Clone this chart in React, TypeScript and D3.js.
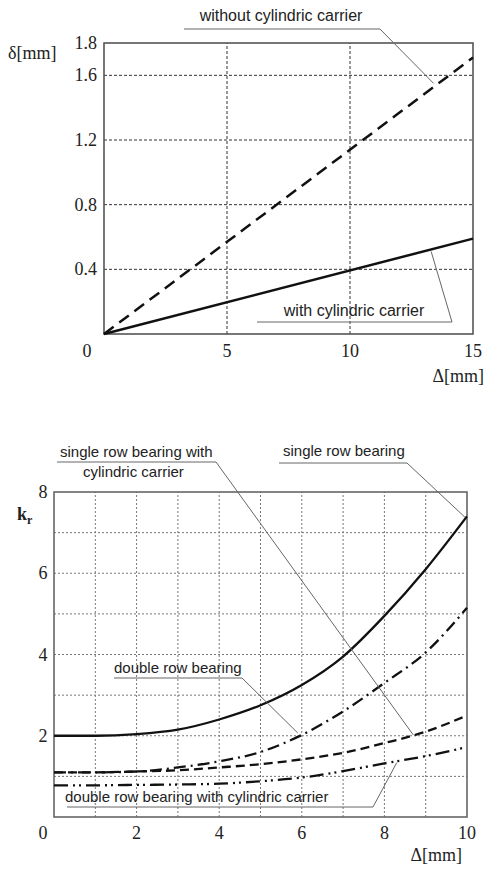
import React, { useEffect, useRef } from 'react';
import * as d3 from 'd3';

// top chart: deflection vs. misalignment
const topX = [0, 15];
const withoutCarrier = [0, 1.71];
const withCarrier = [0, 0.59];
const topXTicks = [5, 10, 15];
const topYTicks = [0.4, 0.8, 1.2, 1.6, 1.8];
const topGridY = [0.4, 0.8, 1.2, 1.6];
const topGridX = [5, 10];

// bottom chart: k_r vs. misalignment
const botX = [0, 1, 2, 3, 4, 5, 6, 7, 8, 9, 10];
const singleRow = [2.0, 2.0, 2.04, 2.15, 2.4, 2.75, 3.25, 3.95, 4.95, 6.1, 7.4];
const doubleRow = [1.1, 1.1, 1.12, 1.22, 1.37, 1.6, 2.02, 2.6, 3.3, 4.05, 5.15];
const singleRowCarrier = [1.1, 1.1, 1.12, 1.15, 1.22, 1.3, 1.42, 1.58, 1.82, 2.1, 2.5];
const doubleRowCarrier = [0.78, 0.78, 0.79, 0.8, 0.82, 0.88, 0.97, 1.13, 1.32, 1.5, 1.72];
const botXTicks = [2, 4, 6, 8, 10];
const botYTicks = [2, 4, 6, 8];
const botGrid = [1, 2, 3, 4, 5, 6, 7, 8, 9];

const serif = 'Liberation Serif';
const sans = 'Liberation Sans';

function App() {
  const svgRef = useRef<SVGSVGElement>(null);

  useEffect(() => {
    const svg = d3.select(svgRef.current);
    svg.selectAll('*').remove();

    const num = (g: any, x: number, y: number, s: string, anchor = 'middle') =>
      g.append('text').attr('x', x).attr('y', y).attr('text-anchor', anchor)
        .attr('font-family', serif).attr('font-size', 18).attr('fill', '#222').text(s);

    // ---------- top chart ----------
    const tx = d3.scaleLinear().domain([0, 15]).range([104, 473]);
    const ty = d3.scaleLinear().domain([0, 1.8]).range([334, 43]);
    const top = svg.append('g');

    top.selectAll('.gx').data(topGridX).enter().append('line')
      .attr('x1', d => tx(d)).attr('x2', d => tx(d))
      .attr('y1', ty(0)).attr('y2', ty(1.8))
      .attr('stroke', '#333').attr('stroke-width', 1).attr('stroke-dasharray', '3,2');
    top.selectAll('.gy').data(topGridY).enter().append('line')
      .attr('x1', tx(0)).attr('x2', tx(15))
      .attr('y1', d => ty(d)).attr('y2', d => ty(d))
      .attr('stroke', '#333').attr('stroke-width', 1).attr('stroke-dasharray', '3,2');
    top.append('rect')
      .attr('x', tx(0)).attr('y', ty(1.8))
      .attr('width', tx(15) - tx(0)).attr('height', ty(0) - ty(1.8))
      .attr('fill', 'none').attr('stroke', '#555').attr('stroke-width', 1.6);

    const topLine = d3.line<number>().x((_, i) => tx(topX[i])).y(d => ty(d));
    top.append('path').attr('d', topLine(withoutCarrier))
      .attr('fill', 'none').attr('stroke', '#111').attr('stroke-width', 2.5)
      .attr('stroke-dasharray', '12,7');
    top.append('path').attr('d', topLine(withCarrier))
      .attr('fill', 'none').attr('stroke', '#111').attr('stroke-width', 2.5);

    topYTicks.forEach(d => num(top, 97, ty(d) + 6, d.toFixed(1), 'end'));
    topXTicks.forEach(d => num(top, tx(d), 357, String(d)));
    num(top, 87, 357, '0');
    num(top, 8, 59, 'δ[mm]', 'start');
    num(top, 484, 382, 'Δ[mm]', 'end');

    const leader = (g: any, pts: [number, number][]) => {
      g.append('path').attr('d', d3.line()(pts))
        .attr('fill', 'none').attr('stroke', '#666').attr('stroke-width', 1);
    };
    const label = (g: any, x: number, y: number, s: string, size: number, anchor = 'start') => {
      g.append('text').attr('x', x).attr('y', y).attr('text-anchor', anchor)
        .attr('font-family', sans).attr('font-size', size).attr('fill', '#222').text(s);
    };

    label(top, 281, 21, 'without cylindric carrier', 16, 'middle');
    leader(top, [[184, 29], [380, 29], [tx(13.4), ty(1.55)]]);
    label(top, 354, 316, 'with cylindric carrier', 16, 'middle');
    leader(top, [[257, 322], [452, 322], [tx(13.3), ty(0.51)]]);

    // ---------- bottom chart ----------
    const bx = d3.scaleLinear().domain([0, 10]).range([54, 467]);
    const by = d3.scaleLinear().domain([0, 8]).range([817, 492]);
    const bot = svg.append('g');

    bot.selectAll('.bgx').data(botGrid).enter().append('line')
      .attr('x1', d => bx(d)).attr('x2', d => bx(d))
      .attr('y1', by(0)).attr('y2', by(8))
      .attr('stroke', '#777').attr('stroke-width', 1).attr('stroke-dasharray', '2,2');
    bot.selectAll('.bgy').data(botGrid.filter(d => d < 8)).enter().append('line')
      .attr('x1', bx(0)).attr('x2', bx(10))
      .attr('y1', d => by(d)).attr('y2', d => by(d))
      .attr('stroke', '#777').attr('stroke-width', 1).attr('stroke-dasharray', '2,2');
    bot.append('rect')
      .attr('x', bx(0)).attr('y', by(8))
      .attr('width', bx(10) - bx(0)).attr('height', by(0) - by(8))
      .attr('fill', 'none').attr('stroke', '#666').attr('stroke-width', 1.6);

    const botLine = d3.line<number>()
      .x((_, i) => bx(botX[i])).y(d => by(d))
      .curve(d3.curveMonotoneX);
    const series: [number[], string][] = [
      [singleRow, ''],
      [doubleRow, '12,5,2,5'],
      [singleRowCarrier, '9,5'],
      [doubleRowCarrier, '14,5,2,4,2,5'],
    ];
    series.forEach(([vals, dash]) => {
      bot.append('path').attr('d', botLine(vals))
        .attr('fill', 'none').attr('stroke', '#111').attr('stroke-width', 2.3)
        .attr('stroke-dasharray', dash || null);
    });

    botYTicks.forEach(d => num(bot, 43, by(d) + 6, String(d)));
    botXTicks.forEach(d => num(bot, bx(d), 839, String(d)));
    num(bot, 43, 839, '0');
    num(bot, 462, 861, 'Δ[mm]', 'end');
    const kr = bot.append('text').attr('x', 17).attr('y', 520)
      .attr('font-family', serif).attr('font-size', 18).attr('font-weight', 'bold')
      .attr('fill', '#222');
    kr.append('tspan').text('k');
    kr.append('tspan').attr('dy', 4).attr('font-size', 12).text('r');

    label(bot, 60, 457, 'single row bearing with', 15);
    label(bot, 83, 477, 'cylindric carrier', 15);
    leader(bot, [[57, 462], [216, 462], [bx(8.7), by(2.02)]]);
    label(bot, 283, 456, 'single row bearing', 15);
    leader(bot, [[279, 463], [407, 463], [bx(9.95), by(7.38)]]);
    label(bot, 114, 673, 'double row bearing', 15);
    leader(bot, [[114, 678], [242, 678], [bx(5.9), by(2.07)]]);
    label(bot, 65, 802, 'double row bearing with cylindric carrier', 15);
    leader(bot, [[67, 807], [373, 807], [bx(8.3), by(1.34)]]);
  }, []);

  return (
    <svg ref={svgRef} width={485} height={869}
      style={{ position: 'absolute', left: 0, top: 0, background: '#fff' }} />
  );
}

export default App;
